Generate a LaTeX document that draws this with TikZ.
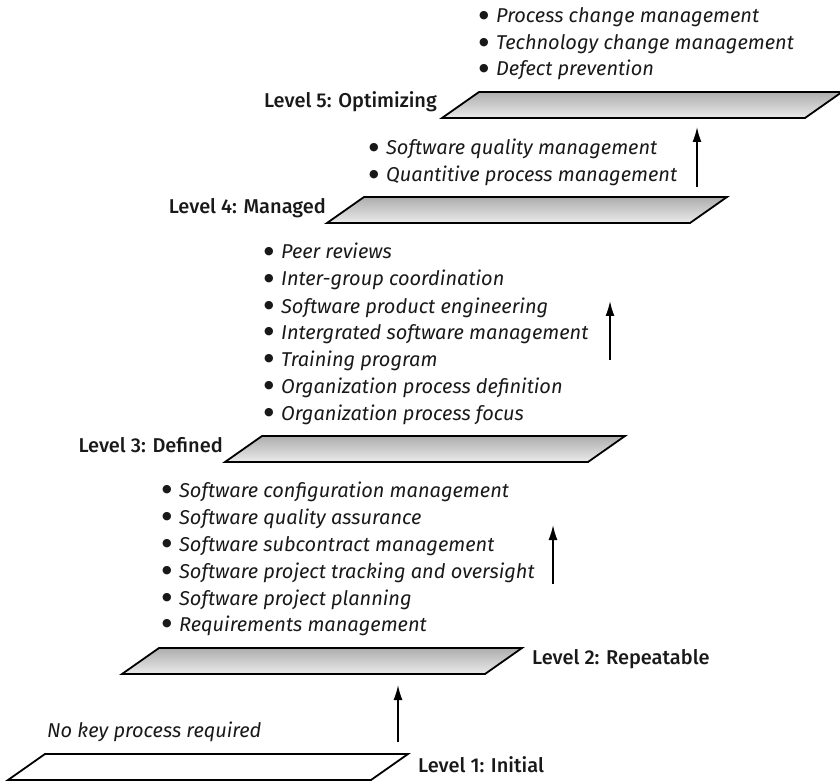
\documentclass[tikz,border=0pt]{standalone}
\usepackage{fontspec}
\setmainfont{Fira Sans}[BoldFont={Fira Sans Medium}]
\newfontfamily\dvbullet{DejaVu Sans}
\usetikzlibrary{arrows.meta}
\begin{document}
\begin{tikzpicture}[x=1pt,y=-1pt,
  level/.style={draw=black, line width=1.8pt, top color=black!32, bottom color=black!8, line join=miter},
  level1/.style={draw=black, line width=1.8pt, fill=white, line join=miter},
  lab/.style={inner sep=0pt, text=black!90, font=\fontsize{20}{24}\selectfont\bfseries},
  item/.style={anchor=base west, inner sep=0pt, text=black!90, font=\fontsize{20}{24}\selectfont},
  up/.style={line width=1.6pt, -{Latex[length=15pt,width=9pt]}}
]
\useasboundingbox (0,0) rectangle (840,783);
% levels
\newcommand\lvlshape[3]{\path[#1] (#2,#3) -- ++(363,0) -- ++(37,-26) -- ++(-363,0) -- cycle;}
\lvlshape{level1}{8}{780}
\lvlshape{level}{122}{674}
\lvlshape{level}{225}{462}
\lvlshape{level}{327}{223}
\lvlshape{level}{442}{118}
% labels
\node[lab, anchor=base west] (l1) at (418,772) {Level 1: Initial};
\node[lab, anchor=base west] (l2) at (532,664) {Level 2: Repeatable};
\node[lab, anchor=base east] (l3) at (223,452) {Level 3: Defined};
\node[lab, anchor=base east] (l4) at (326,214) {Level 4: Managed};
\node[lab, anchor=base east] (l5) at (437,108) {Level 5: Optimizing};
% lists
\newcommand\bitem[4]{\node[item] (#1) at (#2,#3) {\makebox[17pt][l]{\raisebox{4.5pt}{\fontsize{11}{12}\dvbullet ●}}\textit{#4}};}
\bitem{a1}{479}{23}{Process change management}
\bitem{a2}{479}{50}{Technology change management}
\bitem{a3}{479}{76}{Defect prevention}
\bitem{b1}{369}{155}{Software quality management}
\bitem{b2}{369}{182}{Quantitive process management}
\bitem{c1}{264}{259}{Peer reviews}
\bitem{c2}{264}{286}{Inter-group coordination}
\bitem{c3}{264}{313}{Software product engineering}
\bitem{c4}{264}{339}{Intergrated software management}
\bitem{c5}{264}{366}{Training program}
\bitem{c6}{264}{393}{Organization process definition}
\bitem{c7}{264}{420}{Organization process focus}
\bitem{d1}{162}{497}{Software configuration management}
\bitem{d2}{162}{524}{Software quality assurance}
\bitem{d3}{162}{551}{Software subcontract management}
\bitem{d4}{162}{578}{Software project tracking and oversight}
\bitem{d5}{162}{605}{Software project planning}
\bitem{d6}{162}{631}{Requirements management}
\node[item] (nk) at (47,737) {\textit{No key process required}};
% arrows
\coordinate (s1) at (398,742); \coordinate (e1) at (398,685);
\coordinate (s2) at (553,584); \coordinate (e2) at (553,525);
\coordinate (s3) at (610,360); \coordinate (e3) at (610,301);
\coordinate (s4) at (697,187); \coordinate (e4) at (697,127);
\draw[up] (s1) -- (e1);
\draw[up] (s2) -- (e2);
\draw[up] (s3) -- (e3);
\draw[up] (s4) -- (e4);
\end{tikzpicture}
\end{document}
